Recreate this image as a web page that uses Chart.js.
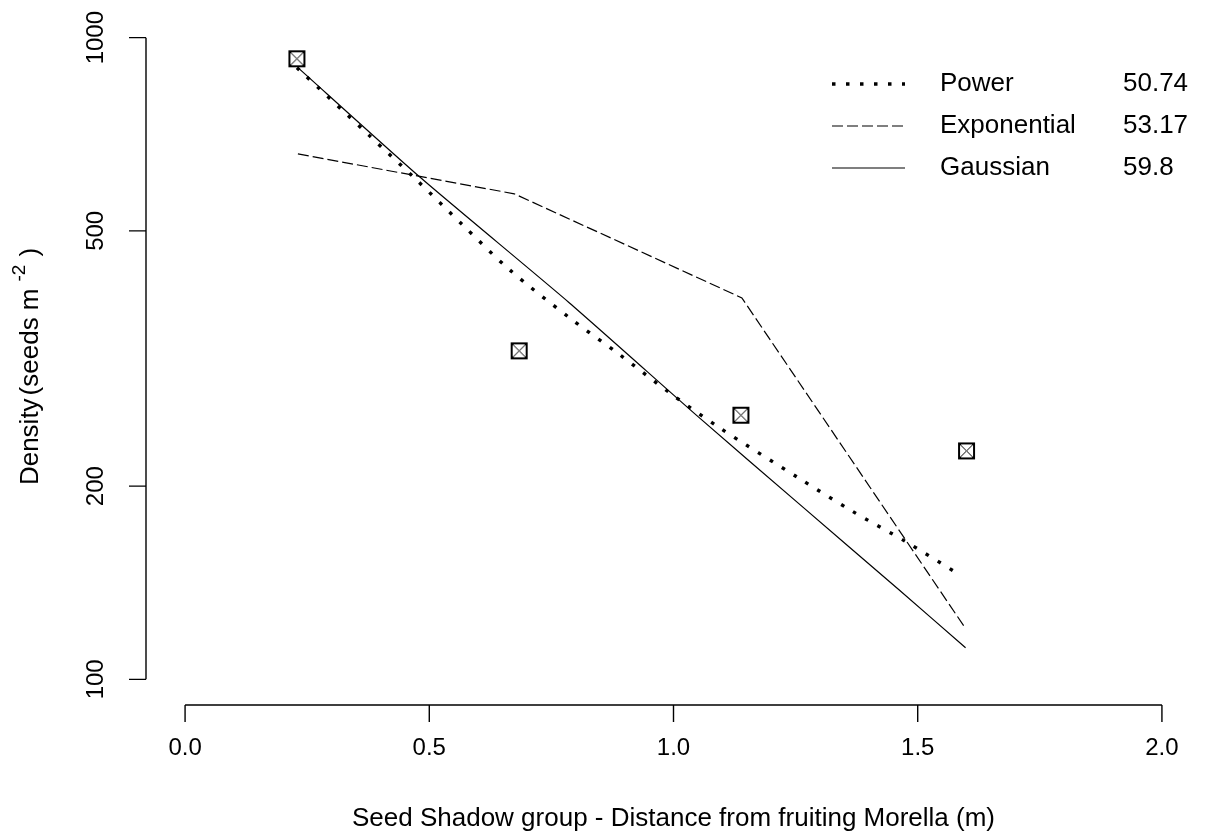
<!DOCTYPE html>
<html>
<head>
<meta charset="utf-8">
<script src="https://cdn.jsdelivr.net/npm/chart.js@4"></script>
<style>
  body { margin: 0; background: #fff; }
  #wrap { width: 1211px; height: 837px; }
</style>
</head>
<body>
<div id="wrap"><canvas id="seedChart"></canvas></div>
<script>
// observed seed densities
const obsX = [0.229, 0.684, 1.138, 1.600];
const obsY = [927, 325, 258, 227];

// fitted curves
const powerX = [0.229, 0.378, 0.474, 0.568, 0.664, 0.787, 0.889, 0.991, 1.093, 1.256, 1.365, 1.475, 1.583];
const powerY = [898, 703, 600, 511, 435, 366, 321, 280, 247, 206, 183, 164, 146];
const expX = [0.231, 0.674, 1.140, 1.598];
const expY = [659, 571, 393, 120];
const gaussX = [0.231, 0.480, 0.787, 1.052, 1.256, 1.461, 1.598];
const gaussY = [898, 607, 386, 256, 188, 138, 112];

const xTicks = [0, 0.5, 1.0, 1.5, 2.0];
const yTicks = [100, 200, 500, 1000];
const legendNames = ["Power", "Exponential", "Gaussian"];
const legendValues = ["50.74", "53.17", "59.8"];

const FAMILY = "'Liberation Sans', Arial, sans-serif";
const TICK_FONT = "24px " + FAMILY;
const LAB_FONT = "26px " + FAMILY;

function pts(xs, ys) {
  return xs.map((v, i) => ({ x: v, y: ys[i] }));
}

// square with a cross in it (R pch 7)
function makeMarker() {
  const c = document.createElement("canvas");
  c.width = 19; c.height = 19;
  const g = c.getContext("2d");
  g.strokeStyle = "#000";
  g.lineWidth = 1;
  g.beginPath();
  g.moveTo(2, 2); g.lineTo(17, 17);
  g.moveTo(17, 2); g.lineTo(2, 17);
  g.stroke();
  g.lineWidth = 2;
  g.strokeRect(2, 2, 15, 15);
  return c;
}

const rAxes = {
  id: "rAxes",
  afterDraw(chart) {
    const ctx = chart.ctx;
    const x = chart.scales.x, y = chart.scales.y;
    const bottom = chart.chartArea.bottom, left = chart.chartArea.left;
    ctx.save();
    ctx.strokeStyle = "#000";
    ctx.lineWidth = 1.4;
    ctx.beginPath();
    ctx.moveTo(x.getPixelForValue(xTicks[0]), bottom);
    ctx.lineTo(x.getPixelForValue(xTicks[xTicks.length - 1]), bottom);
    xTicks.forEach(t => {
      const px = x.getPixelForValue(t);
      ctx.moveTo(px, bottom);
      ctx.lineTo(px, bottom + 17);
    });
    ctx.moveTo(left, y.getPixelForValue(yTicks[0]));
    ctx.lineTo(left, y.getPixelForValue(yTicks[yTicks.length - 1]));
    yTicks.forEach(t => {
      const py = y.getPixelForValue(t);
      ctx.moveTo(left, py);
      ctx.lineTo(left - 17, py);
    });
    ctx.stroke();

    ctx.fillStyle = "#000";
    ctx.font = TICK_FONT;
    ctx.textAlign = "center";
    ctx.textBaseline = "middle";
    xTicks.forEach(t => {
      ctx.fillText(t.toFixed(1), x.getPixelForValue(t), bottom + 43);
    });
    yTicks.forEach(t => {
      ctx.save();
      ctx.translate(left - 50, y.getPixelForValue(t));
      ctx.rotate(-Math.PI / 2);
      ctx.fillText(String(t), 0, 0);
      ctx.restore();
    });

    ctx.font = LAB_FONT;
    ctx.fillText("Seed Shadow group - Distance from fruiting Morella (m)",
      (x.getPixelForValue(xTicks[0]) + x.getPixelForValue(xTicks[xTicks.length - 1])) / 2,
      bottom + 114);

    // y title with superscript
    const midY = (chart.chartArea.top + chart.chartArea.bottom) / 2;
    ctx.save();
    ctx.translate(left - 115, midY + 8);
    ctx.rotate(-Math.PI / 2);
    ctx.textAlign = "left";
    const parts = [
      { t: "Density", f: LAB_FONT, dy: 0, gap: 3 },
      { t: "(seeds m", f: LAB_FONT, dy: 0, gap: 7 },
      { t: "-2", f: "19px " + FAMILY, dy: -11, gap: 8 },
      { t: ")", f: LAB_FONT, dy: 0, gap: 0 }
    ];
    let total = 0;
    parts.forEach(p => { ctx.font = p.f; p.w = ctx.measureText(p.t).width; total += p.w + p.gap; });
    let cx = -total / 2;
    parts.forEach(p => {
      ctx.font = p.f;
      ctx.fillText(p.t, cx, p.dy);
      cx += p.w + p.gap;
    });
    ctx.restore();

    // legend
    const rows = [84, 126, 168];
    ctx.font = LAB_FONT;
    chart.data.datasets.slice(0, 3).forEach((ds, i) => {
      ctx.save();
      ctx.lineWidth = ds.borderWidth;
      ctx.setLineDash(ds.borderDash || []);
      ctx.beginPath();
      ctx.moveTo(832, rows[i]);
      ctx.lineTo(905, rows[i]);
      ctx.stroke();
      ctx.restore();
      ctx.textAlign = "left";
      ctx.fillText(legendNames[i], 940, rows[i]);
      ctx.fillText(legendValues[i], 1123, rows[i]);
    });
    ctx.restore();
  }
};

new Chart(document.getElementById("seedChart"), {
  type: "line",
  data: {
    datasets: [
      { label: legendNames[0], data: pts(powerX, powerY), borderColor: "#000", borderWidth: 3.4, borderDash: [3.5, 10.5], pointRadius: 0, tension: 0.3, fill: false },
      { label: legendNames[1], data: pts(expX, expY), borderColor: "#000", borderWidth: 1.2, borderDash: [11, 4], pointRadius: 0, tension: 0, fill: false },
      { label: legendNames[2], data: pts(gaussX, gaussY), borderColor: "#000", borderWidth: 1.2, pointRadius: 0, tension: 0.2, fill: false },
      { label: "Observed", data: pts(obsX, obsY), showLine: false, pointStyle: makeMarker(), pointRadius: 9, borderColor: "#000" }
    ]
  },
  options: {
    responsive: true,
    maintainAspectRatio: false,
    animation: false,
    layout: { padding: { left: 146, right: 8, top: 12, bottom: 132 } },
    plugins: { legend: { display: false }, tooltip: { enabled: false } },
    scales: {
      x: { type: "linear", display: false, min: -0.08, max: 2.08 },
      y: { type: "logarithmic", display: false, min: Math.pow(10, 1.96), max: Math.pow(10, 3.04) }
    }
  },
  plugins: [rAxes]
});
</script>
</body>
</html>
